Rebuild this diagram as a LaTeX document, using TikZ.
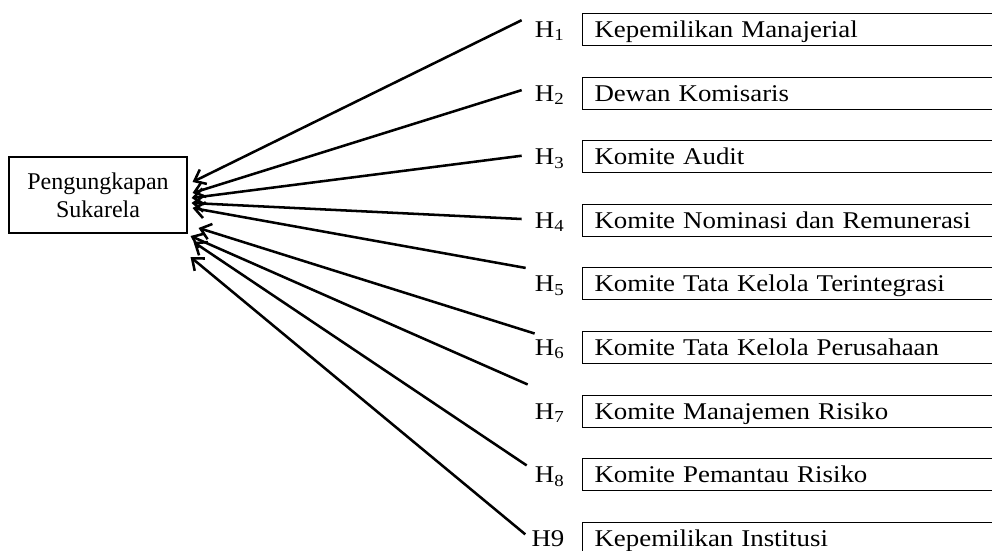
\documentclass[tikz,border=0pt]{standalone}
\usepackage{fontspec}
\setmainfont{Liberation Serif}
\newfontfamily\palfont[FakeStretch=1.12]{Liberation Serif}
\usetikzlibrary{arrows.meta,positioning}

\begin{document}
\begin{tikzpicture}[
  node distance=22.9pt and 13pt,
  var/.style={draw, line width=0.8pt, minimum height=24pt, text width=312pt,
              align=left, inner xsep=9pt, inner ysep=0pt, text height=12pt, text depth=0pt,
              font=\palfont\fontsize{18pt}{21pt}\selectfont},
  dep/.style={draw, line width=0.8pt, minimum width=133.5pt, minimum height=57pt,
              align=center, font=\fontsize{18pt}{21pt}\selectfont},
  hyp/.style={inner sep=0pt, text height=12pt, text depth=0pt,
              font=\palfont\fontsize{18pt}{21pt}\selectfont},
  arr/.style={-{Straight Barb[length=7.5pt,width=12pt]}, line width=1.9pt}
]
\useasboundingbox (0,0) rectangle (744pt,-412.5pt);
\node[dep] (pk) at (73.5pt,-146.25pt) {Pengungkapan\\Sukarela};
% independent variables
\node[var, anchor=north west] (km) at (436.5pt,-9.75pt) {Kepemilikan Manajerial};
\node[var, below=of km] (dk) {Dewan Komisaris};
\node[var, below=of dk] (ka) {Komite Audit};
\node[var, below=of ka] (knr) {Komite Nominasi  dan Remunerasi};
\node[var, below=of knr] (kti) {Komite Tata Kelola Terintegrasi};
\node[var, below=of kti] (ktp) {Komite Tata Kelola Perusahaan};
\node[var, below=of ktp] (kmr) {Komite Manajemen Risiko};
\node[var, below=of kmr] (kpr) {Komite Pemantau Risiko};
\node[var, below=of kpr] (ki) {Kepemilikan Institusi};
% hypotheses
\node[hyp, left=of km] (h1) {H\textsubscript{1}};
\node[hyp, left=of dk] (h2) {H\textsubscript{2}};
\node[hyp, left=of ka] (h3) {H\textsubscript{3}};
\node[hyp, left=of knr] (h4) {H\textsubscript{4}};
\node[hyp, left=of kti] (h5) {H\textsubscript{5}};
\node[hyp, left=of ktp] (h6) {H\textsubscript{6}};
\node[hyp, left=of kmr] (h7) {H\textsubscript{7}};
\node[hyp, left=of kpr] (h8) {H\textsubscript{8}};
\node[hyp, left=of ki] (h9) {H9};
\draw[arr] ([shift={(-9.75pt,7pt)}]h1.west) -- ([shift={(3.75pt,9.75pt)}]pk.east);
\draw[arr] ([shift={(-9.75pt,2.25pt)}]h2.west) -- ([shift={(3.75pt,1.5pt)}]pk.east);
\draw[arr] ([shift={(-9.75pt,0.75pt)}]h3.west) -- ([shift={(3pt,-2.25pt)}]pk.east);
\draw[arr] ([shift={(-9.75pt,1pt)}]h4.west) -- ([shift={(3pt,-6pt)}]pk.east);
\draw[arr] ([shift={(-6.75pt,12pt)}]h5.west) -- ([shift={(3.75pt,-9.75pt)}]pk.east);
\draw[arr] ([shift={(0pt,10.5pt)}]h6.west) -- ([shift={(8.25pt,-24.75pt)}]pk.east);
\draw[arr] ([shift={(-5.25pt,20pt)}]h7.west) -- ([shift={(2.25pt,-30.75pt)}]pk.east);
\draw[arr] ([shift={(-6pt,7pt)}]h8.west) -- ([shift={(4.5pt,-35.25pt)}]pk.east);
\draw[arr] ([shift={(-4.5pt,3pt)}]h9.west) -- ([shift={(2.25pt,-46.5pt)}]pk.east);
\end{tikzpicture}
\end{document}
